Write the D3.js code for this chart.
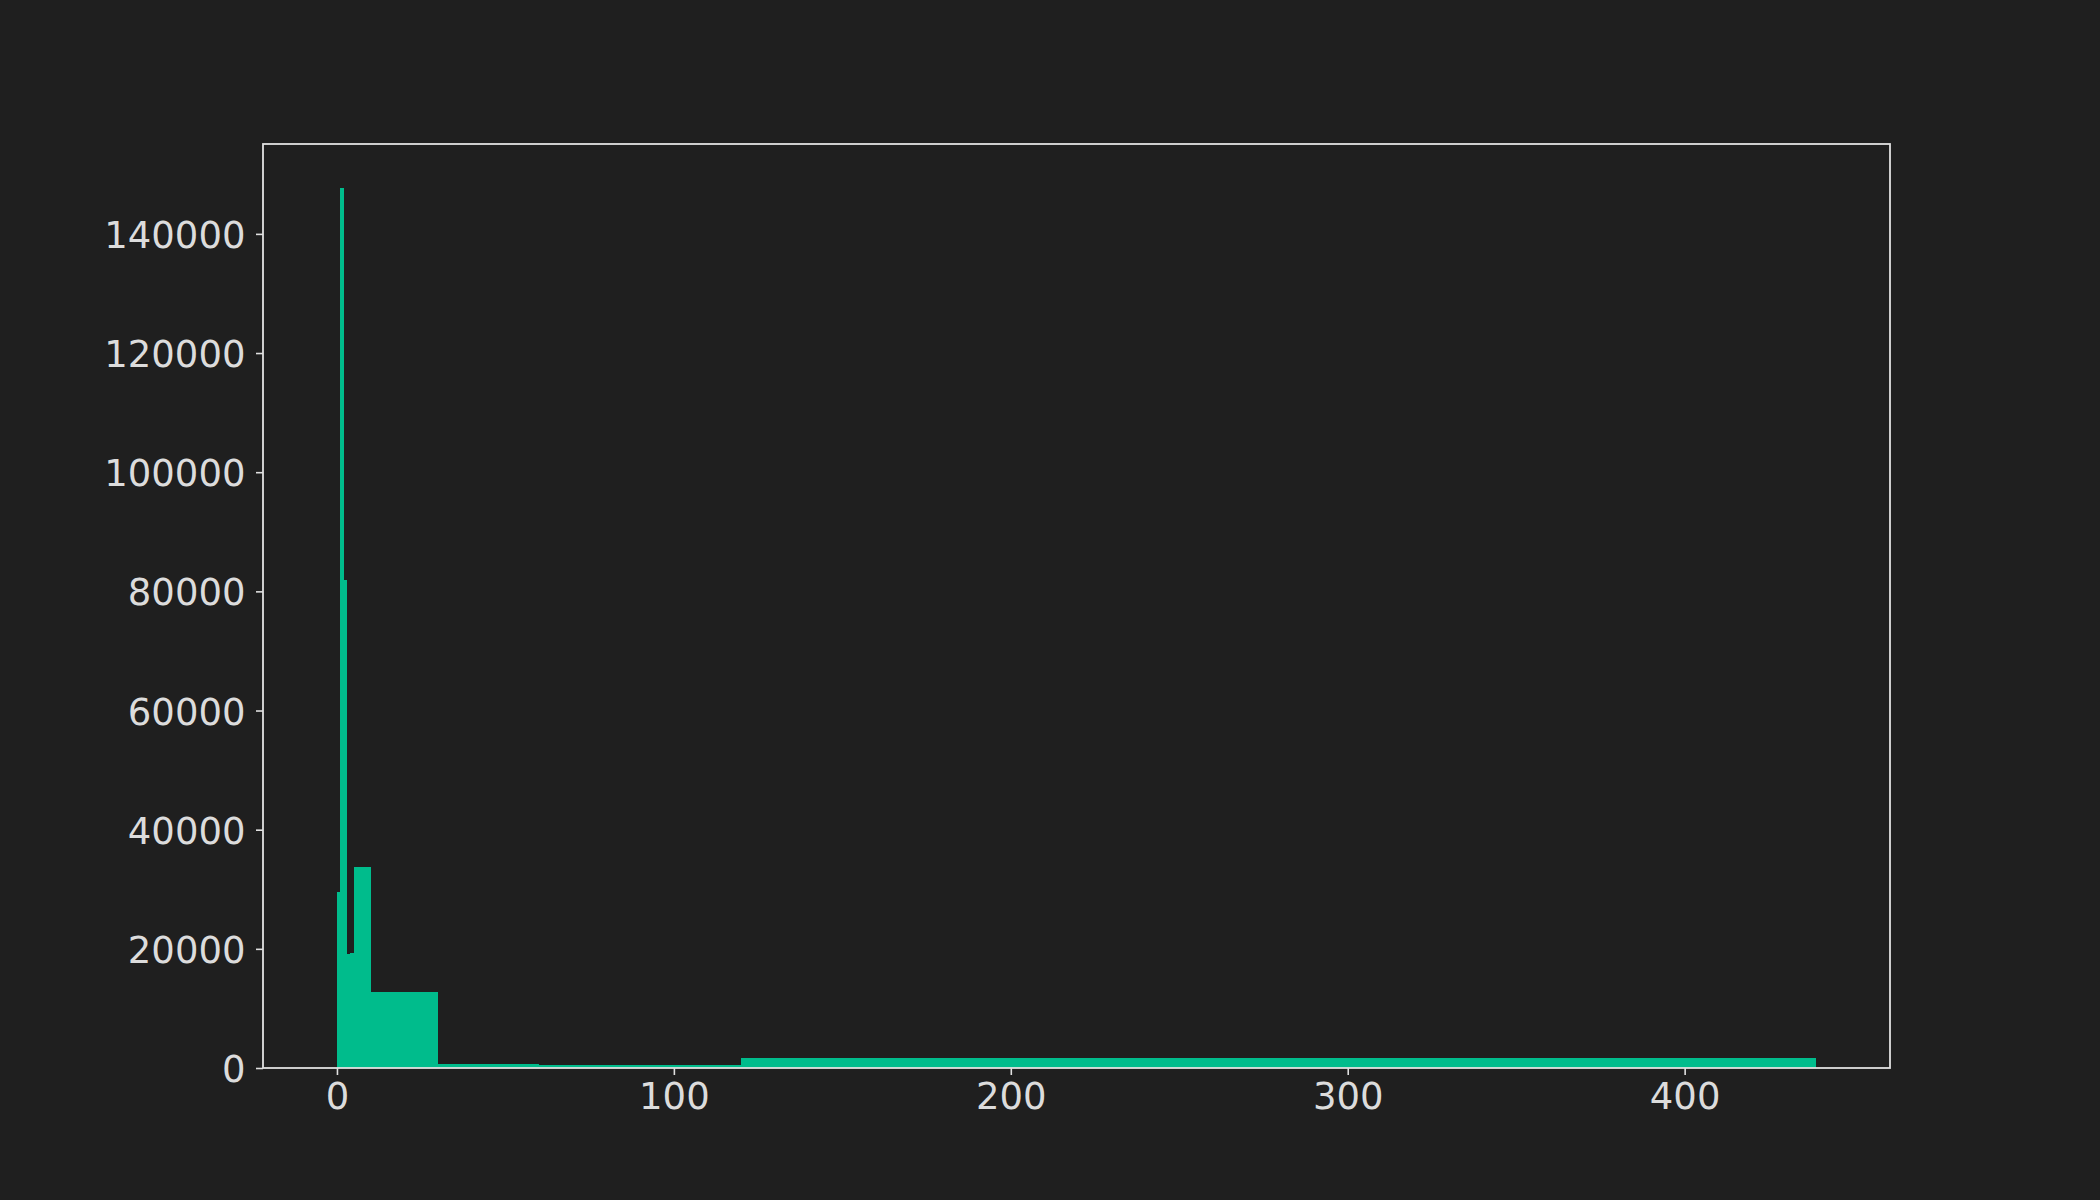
<!DOCTYPE html>
<html>
<head>
<meta charset="utf-8">
<script src="https://cdn.jsdelivr.net/npm/d3@7"></script>
<style>
  html, body { margin: 0; padding: 0; background: #1f1f1f; }
  svg { display: block; }
</style>
</head>
<body>
<script>
// Histogram bin edges (variable widths) and counts
const binEdges = [0, 1, 2, 3, 4, 5, 10, 30, 60, 120, 439];
const counts = [29600, 147700, 81900, 19100, 19250, 33700, 12700, 650, 500, 1650];
const xTickValues = [0, 100, 200, 300, 400];
const yTickValues = [0, 20000, 40000, 60000, 80000, 100000, 120000, 140000];

const W = 2100, H = 1200;
const plotLeft = 263, plotRight = 1890, plotTop = 144, plotBottom = 1068;
const barColor = "#00bc8c";
const fg = "#e0e0e0";
const textColor = "#dcdcdc";

const bins = counts.map((c, i) => ({ x0: binEdges[i], x1: binEdges[i + 1], count: c }));

const xMax = d3.max(binEdges), xMin = d3.min(binEdges);
const xPad = (xMax - xMin) * 0.05;
const x = d3.scaleLinear().domain([xMin - xPad, xMax + xPad]).range([plotLeft, plotRight]);
const y = d3.scaleLinear().domain([0, d3.max(counts) * 1.05]).range([plotBottom, plotTop]);

const svg = d3.select("body").append("svg").attr("width", W).attr("height", H);
svg.append("rect").attr("width", W).attr("height", H).attr("fill", "#1f1f1f");

svg.append("g").attr("shape-rendering", "crispEdges").selectAll("rect").data(bins).join("rect")
  .attr("x", d => x(d.x0))
  .attr("width", d => x(d.x1) - x(d.x0))
  .attr("y", d => y(d.count))
  .attr("height", d => y(0) - y(d.count))
  .attr("fill", barColor);

// Axes
const xAxis = d3.axisBottom(x).tickValues(xTickValues).tickSize(7).tickPadding(0).tickFormat(d3.format("d"));
const yAxis = d3.axisLeft(y).tickValues(yTickValues).tickSize(7).tickPadding(0).tickFormat(d3.format("d"));

const gx = svg.append("g").attr("transform", `translate(0,${plotBottom})`).call(xAxis);
const gy = svg.append("g").attr("transform", `translate(${plotLeft},0)`).call(yAxis);

[gx, gy].forEach(g => {
  g.select(".domain").remove();
  g.selectAll(".tick line").attr("stroke", fg).attr("stroke-width", 1.6);
  g.selectAll(".tick text")
    .attr("fill", textColor)
    .style("font-family", "'DejaVu Sans', sans-serif")
    .style("font-size", "37px");
});
gx.selectAll(".tick text").attr("y", 41).attr("dy", null).attr("dominant-baseline", "alphabetic");
gy.selectAll(".tick text").attr("x", -17.5).attr("dy", null).attr("y", 13.5).attr("dominant-baseline", "alphabetic");

// Frame (spines)
svg.append("rect")
  .attr("x", plotLeft).attr("y", plotTop)
  .attr("width", plotRight - plotLeft).attr("height", plotBottom - plotTop)
  .attr("fill", "none").attr("stroke", fg).attr("stroke-width", 1.8);
</script>
</body>
</html>
